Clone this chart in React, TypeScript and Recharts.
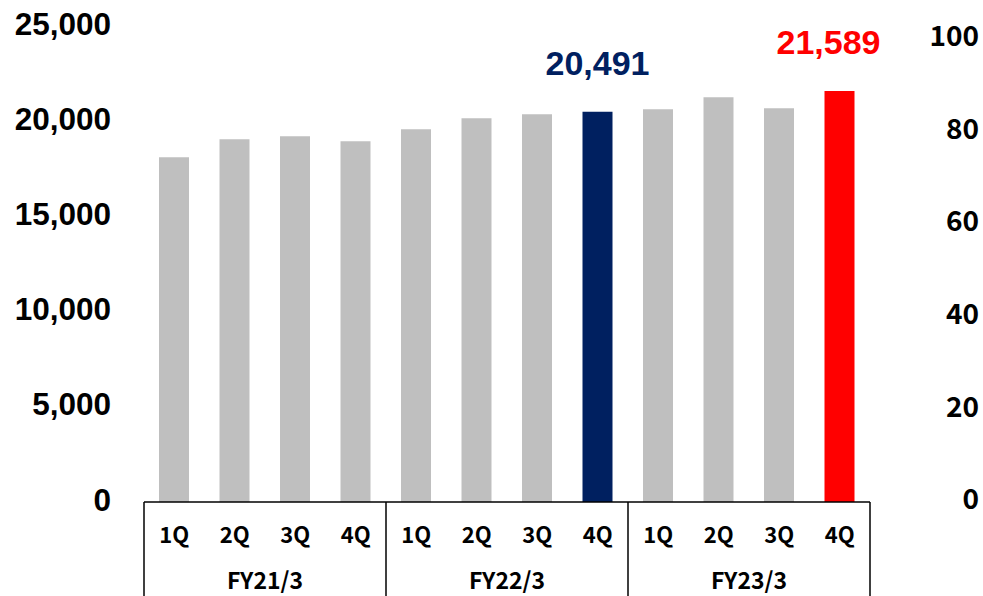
import React from 'react';
import { BarChart, Bar, XAxis, YAxis, Cell } from 'recharts';

// ---- data ----
const quarters = ['1Q', '2Q', '3Q', '4Q', '1Q', '2Q', '3Q', '4Q', '1Q', '2Q', '3Q', '4Q'];
const fiscalYears = ['FY21/3', 'FY22/3', 'FY23/3'];
const values = [18110, 19055, 19213, 18950, 19580, 20157, 20367, 20491, 20630, 21260, 20682, 21589];
const leftTicks = [0, 5000, 10000, 15000, 20000, 25000];
const rightTicks = [0, 20, 40, 60, 80, 100];

const data = quarters.map((q, i) => ({ key: `${i}`, quarter: q, value: values[i] }));

// ---- layout / style ----
const W = 983;
const H = 596;
const LEFT_W = 144;
const RIGHT_W = 113;
const TOP = 26;
const XAXIS_H = 94;
const PLOT_W = W - LEFT_W - RIGHT_W;
const BAND = PLOT_W / quarters.length;
const AXIS_Y = H - XAXIS_H;

const GRAY = '#BFBFBF';
const NAVY = '#002060';
const RED = '#FF0000';
const HIGHLIGHT: Record<number, { color: string; dx: number }> = {
  7: { color: NAVY, dx: 0 },
  11: { color: RED, dx: -11 },
};
const LATIN = '"Liberation Sans", Arial, sans-serif';
const CJK = '"Noto Sans CJK JP", "Noto Sans", sans-serif';

const fmt = (v: number) => v.toLocaleString('en-US');

const LeftTick = (props: any) => {
  const { y, payload } = props;
  return (
    <text x={111} y={y + 8.5} textAnchor="end" fontFamily={LATIN} fontWeight="bold" fontSize={31.5} fill="#000">
      {fmt(payload.value)}
    </text>
  );
};

const RightTick = (props: any) => {
  const { y, payload } = props;
  return (
    <text x={979} y={y + 10} textAnchor="end" fontFamily={CJK} fontWeight="bold" fontSize={28} fill="#000">
      {payload.value}
    </text>
  );
};

const XTick = (props: any) => {
  const { x, index, payload } = props;
  const q = quarters[index] ?? payload.value;
  const els: React.ReactNode[] = [];
  els.push(
    <text key="q" x={x} y={AXIS_Y + 41} textAnchor="middle" fontFamily={CJK} fontWeight="bold" fontSize={22} fill="#000">
      {q}
    </text>
  );
  if (index % 4 === 0) {
    const lx = x - BAND / 2;
    els.push(<line key="l" x1={lx} x2={lx} y1={AXIS_Y} y2={H} stroke="#000" strokeWidth={1.5} />);
    els.push(
      <text key="fy" x={x + 1.5 * BAND} y={AXIS_Y + 87} textAnchor="middle" fontFamily={CJK} fontWeight="bold" fontSize={23} fill="#000">
        {fiscalYears[index / 4]}
      </text>
    );
  }
  if (index === quarters.length - 1) {
    const rx = x + BAND / 2;
    els.push(<line key="r" x1={rx} x2={rx} y1={AXIS_Y} y2={H} stroke="#000" strokeWidth={1.5} />);
  }
  return <g>{els}</g>;
};

const renderLabel = (props: any) => {
  const { x, y, width, value, index } = props;
  const h = HIGHLIGHT[index];
  if (!h) return null;
  return (
    <text x={x + width / 2 + h.dx} y={y - 37} textAnchor="middle" fontFamily={LATIN} fontWeight="bold" fontSize={34} fill={h.color}>
      {fmt(value)}
    </text>
  );
};

export default function App() {
  return (
    <div style={{ position: 'absolute', left: 0, top: 0, width: W, height: H, background: '#fff' }}>
      <BarChart width={W} height={H} data={data} margin={{ top: TOP, right: 0, bottom: 0, left: 0 }}>
        <XAxis
          dataKey="key"
          height={XAXIS_H}
          interval={0}
          tickLine={false}
          axisLine={{ stroke: '#000', strokeWidth: 1.5 }}
          tick={<XTick />}
        />
        <YAxis
          yAxisId="left"
          width={LEFT_W}
          domain={[0, 25000]}
          ticks={leftTicks}
          axisLine={false}
          tickLine={false}
          tick={<LeftTick />}
        />
        <YAxis
          yAxisId="right"
          orientation="right"
          width={RIGHT_W}
          domain={[-0.6, 102.2]}
          allowDataOverflow
          ticks={rightTicks}
          axisLine={false}
          tickLine={false}
          tick={<RightTick />}
        />
        <Bar yAxisId="left" dataKey="value" barSize={30} isAnimationActive={false} label={renderLabel}>
          {data.map((d, i) => (
            <Cell key={d.key} fill={HIGHLIGHT[i] ? HIGHLIGHT[i].color : GRAY} />
          ))}
        </Bar>
      </BarChart>
    </div>
  );
}
